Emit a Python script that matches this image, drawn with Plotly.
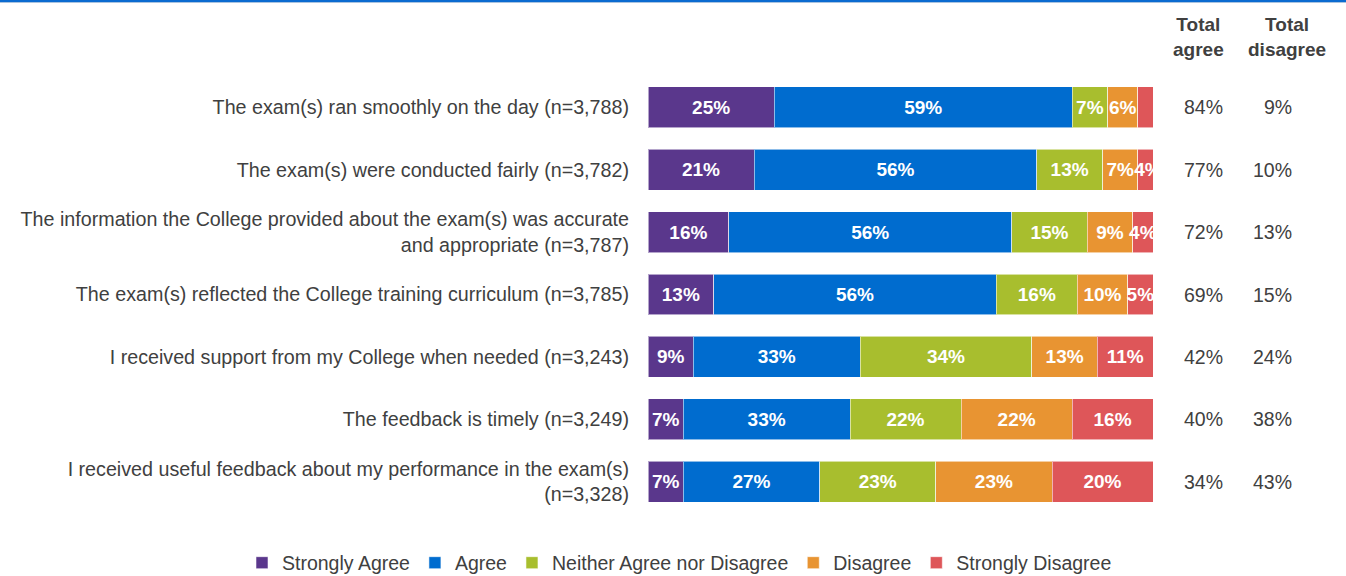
import plotly.graph_objects as go

# Survey statements (top to bottom)
statements = [
    "The exam(s) ran smoothly on the day (n=3,788)",
    "The exam(s) were conducted fairly (n=3,782)",
    "The information the College provided about the exam(s) was accurate<br>and appropriate (n=3,787)",
    "The exam(s) reflected the College training curriculum (n=3,785)",
    "I received support from my College when needed (n=3,243)",
    "The feedback is timely (n=3,249)",
    "I received useful feedback about my performance in the exam(s)<br>(n=3,328)",
]

# Response shares (%)
strongly_agree = [25, 21, 16, 13, 9, 7, 7]
agree = [59, 56, 56, 56, 33, 33, 27]
neither = [7, 13, 15, 16, 34, 22, 23]
disagree = [6, 7, 9, 10, 13, 22, 23]
strongly_disagree = [3, 4, 4, 5, 11, 16, 20]

total_agree = [84, 77, 72, 69, 42, 40, 34]
total_disagree = [9, 10, 13, 15, 24, 38, 43]

series = [
    ("Strongly Agree", strongly_agree, "#5a378c"),
    ("Agree", agree, "#006ccf"),
    ("Neither Agree nor Disagree", neither, "#a8be2e"),
    ("Disagree", disagree, "#e89432"),
    ("Strongly Disagree", strongly_disagree, "#de5659"),
]

FONT = "Liberation Sans, Arial, sans-serif"
TEXT_COLOR = "#404040"

# Pixel geometry of the plotting area
W, H = 1346, 576
L, R = 648, 1153
T, B = 76, 513
PW, PH = R - L, B - T


def px_x(px):
    return (px - L) / PW


def px_y(py):
    return (B - py) / PH


fig = go.Figure()
for name, vals, color in series:
    fig.add_trace(go.Bar(
        y=statements,
        x=vals,
        name=name,
        orientation="h",
        marker=dict(color=color, line=dict(color="rgba(255,255,255,0.55)", width=1)),
        text=[f"{v}%" if v >= 4 else "" for v in vals],
        textposition="inside",
        insidetextanchor="middle",
        textangle=0,
        textfont=dict(family=FONT, size=19, color="white", weight="bold"),
        cliponaxis=True,
        hoverinfo="skip",
    ))

annotations = []
# Column headers
for cx, label in [(1198, "Total<br>agree"), (1287, "Total<br>disagree")]:
    annotations.append(dict(
        x=px_x(cx), y=px_y(37), xref="paper", yref="paper",
        text=f"<b>{label}</b>", showarrow=False,
        xanchor="center", yanchor="middle",
        font=dict(family=FONT, size=19, color=TEXT_COLOR),
    ))

# Totals columns
for i, (a, d) in enumerate(zip(total_agree, total_disagree)):
    annotations.append(dict(
        x=px_x(1225), y=i, xref="paper", yref="y",
        text=f"{a}%", showarrow=False, xanchor="right", yanchor="middle",
        font=dict(family=FONT, size=19.5, color=TEXT_COLOR),
    ))
    annotations.append(dict(
        x=px_x(1294), y=i, xref="paper", yref="y",
        text=f"{d}%", showarrow=False, xanchor="right", yanchor="middle",
        font=dict(family=FONT, size=19.5, color=TEXT_COLOR),
    ))

# Thin accent rule along the top edge
shapes = [
    dict(type="rect", xref="paper", yref="paper",
         x0=px_x(0), x1=px_x(W), y0=px_y(2), y1=px_y(0),
         line=dict(width=0), fillcolor="#0b6bd0", layer="above"),
    dict(type="rect", xref="paper", yref="paper",
         x0=px_x(0), x1=px_x(W), y0=px_y(3), y1=px_y(2),
         line=dict(width=0), fillcolor="#a9c3df", layer="above"),
]

fig.update_layout(
    width=W, height=H,
    margin=dict(l=L, r=W - R, t=T, b=H - B, pad=0, autoexpand=False),
    barmode="stack",
    bargap=0.344,
    plot_bgcolor="white",
    paper_bgcolor="white",
    showlegend=True,
    uniformtext=dict(minsize=19, mode="show"),
    legend=dict(
        orientation="h", x=px_x(242), xref="paper",
        xanchor="left", y=px_y(563), yanchor="middle",
        bgcolor="rgba(0,0,0,0)",
        font=dict(family=FONT, size=19.5, color=TEXT_COLOR),
        itemclick=False, itemdoubleclick=False,
        traceorder="normal",
    ),
    xaxis=dict(range=[0, 100], visible=False, fixedrange=True, automargin=False),
    yaxis=dict(
        type="category",
        autorange="reversed", showgrid=False, zeroline=False, showline=False,
        ticks="", ticklabelstandoff=18, automargin=False,
        tickfont=dict(family=FONT, size=19.7, color=TEXT_COLOR),
        fixedrange=True,
    ),
    annotations=annotations,
    shapes=shapes,
    font=dict(family=FONT, color=TEXT_COLOR),
)

fig.write_html("out.html", config={"displayModeBar": False})
